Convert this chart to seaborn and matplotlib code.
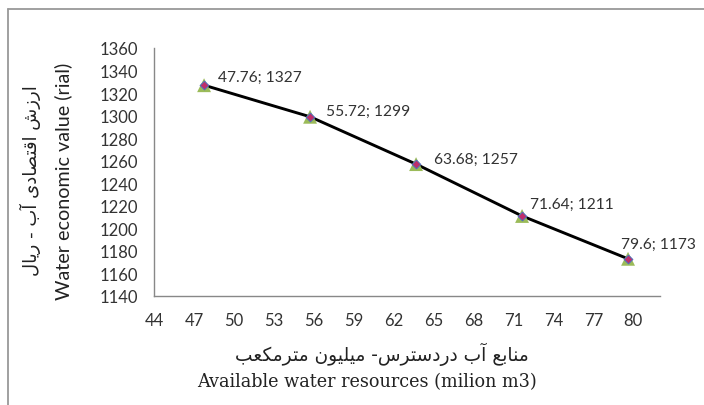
import seaborn as sns
import pandas as pd
import matplotlib.pyplot as plt
from matplotlib.lines import Line2D

# داده‌ها
water = [47.76, 55.72, 63.68, 71.64, 79.6]
value = [1327, 1299, 1257, 1211, 1173]
x_ticks = [44, 47, 50, 53, 56, 59, 62, 65, 68, 71, 74, 77, 80]
y_ticks = [1140, 1160, 1180, 1200, 1220, 1240, 1260, 1280, 1300, 1320, 1340, 1360]
point_labels = ['47.76; 1327', '55.72; 1299', '63.68; 1257', '71.64; 1211', '79.6; 1173']
label_offsets = [(10, 6.3), (11.5, 4.5), (13.2, 4.1), (6, 8.4), (-5.3, 10.6)]

x_title_fa = 'منابع آب دردسترس- میلیون مترمکعب'
x_title_en = 'Available water resources (milion m3)'
y_title_fa = 'ارزش اقتصادی آب - ریال'
y_title_en = 'Water economic value (rial)'

# matplotlib does no Arabic shaping, so pick presentation forms by hand
FORMS = {
    'ا': '\uFE8D\uFE8E', 'آ': '\uFE81\uFE82', 'د': '\uFEA9\uFEAA', 'ر': '\uFEAD\uFEAE',
    'ز': '\uFEAF\uFEB0', 'و': '\uFEED\uFEEE',
    'ب': '\uFE8F\uFE90\uFE91\uFE92', 'ت': '\uFE95\uFE96\uFE97\uFE98',
    'س': '\uFEB1\uFEB2\uFEB3\uFEB4', 'ش': '\uFEB5\uFEB6\uFEB7\uFEB8',
    'ص': '\uFEB9\uFEBA\uFEBB\uFEBC', 'ع': '\uFEC9\uFECA\uFECB\uFECC',
    'ق': '\uFED5\uFED6\uFED7\uFED8', 'ل': '\uFEDD\uFEDE\uFEDF\uFEE0',
    'م': '\uFEE1\uFEE2\uFEE3\uFEE4', 'ن': '\uFEE5\uFEE6\uFEE7\uFEE8',
    'ی': '\uFBFC\uFBFD\uFBFE\uFBFF', 'ک': '\uFB8E\uFB8F\uFB90\uFB91',
}


def shape(text):
    out = []
    for i, ch in enumerate(text):
        f = FORMS.get(ch)
        if f is None:
            out.append(ch)
            continue
        prev = text[i - 1] if i > 0 else ''
        nxt = text[i + 1] if i + 1 < len(text) else ''
        jp = prev in FORMS and len(FORMS[prev]) == 4
        jn = len(f) == 4 and nxt in FORMS
        idx = (3 if jn else 1) if jp else (2 if jn else 0)
        out.append(f[idx])
    return ''.join(reversed(out))


df = pd.DataFrame({'water': water, 'value': value})

sns.set_style('white')
plt.rcParams['font.family'] = ['Lato', 'DejaVu Sans']

fig = plt.figure(figsize=(7.04, 4.06), dpi=100)
ax = fig.add_axes([154 / 704, 1 - 297 / 406, (660 - 154) / 704, (297 - 49) / 406])

sns.lineplot(data=df, x='water', y='value', color='black', linewidth=2.1, ax=ax, zorder=2)
sns.scatterplot(data=df, x='water', y='value', marker='^', s=100, color='#9BBB59',
                edgecolor='none', ax=ax, zorder=3)
sns.scatterplot(data=df, x='water', y='value', marker='D', s=20, color='#BE2F6B',
                edgecolor='#4F6FBD', linewidth=0.7, ax=ax, zorder=4)

for xv, yv, txt, off in zip(water, value, point_labels, label_offsets):
    ax.annotate(txt, (xv, yv), xytext=off, textcoords='offset points',
                ha='left', va='center', fontsize=11.2, color='#333333')

ax.set_xlim(44, 82)
ax.set_ylim(1140, 1360)
ax.set_xticks(x_ticks)
ax.set_yticks(y_ticks)
ax.set_xlabel('')
ax.set_ylabel('')
ax.tick_params(direction='out', length=4.3, width=1, color='#888888',
               labelsize=12, labelcolor='#333333', pad=7)
for side in ['top', 'right']:
    ax.spines[side].set_visible(False)
for side in ['left', 'bottom']:
    ax.spines[side].set_color('#888888')
    ax.spines[side].set_linewidth(1)

fig.text(382 / 704, 1 - 354 / 406, shape(x_title_fa), ha='center', va='center',
         fontsize=13.4, family=['DejaVu Sans'], color='#222222')
fig.text(367 / 704, 1 - 382 / 406, x_title_en, ha='center', va='center',
         fontsize=12.7, family=['DejaVu Serif'], color='#222222')
fig.text(30 / 704, 1 - 181 / 406, shape(y_title_fa), ha='center', va='center',
         rotation=90, fontsize=13, family=['DejaVu Sans'], color='#222222')
fig.text(63 / 704, 1 - 181 / 406, y_title_en, ha='center', va='center',
         rotation=90, fontsize=14.2, color='#222222')

# chart frame (only left and top edges are inside the picture)
fig.add_artist(Line2D([8 / 704, 8 / 704], [0, 1 - 10 / 406], color='#999999', linewidth=1.3))
fig.add_artist(Line2D([8 / 704, 1], [1 - 10 / 406, 1 - 10 / 406], color='#999999', linewidth=1.3))

fig.savefig('out.png', dpi=100)
